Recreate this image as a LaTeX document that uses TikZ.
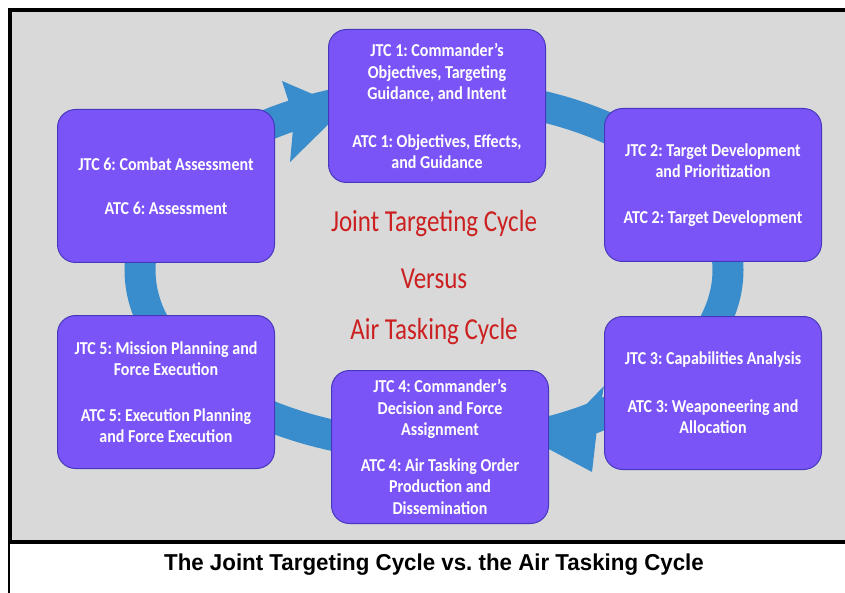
\documentclass[tikz,border=0pt]{standalone}
\usepackage{fontspec}
\setmainfont[FakeStretch=0.88]{Carlito}
\newfontfamily\headfont[FakeStretch=0.82]{Carlito}
\newfontfamily\capfont[FakeStretch=0.97]{Liberation Sans}
\usetikzlibrary{positioning}
\definecolor{FillStep}{RGB}{123,84,248}
\definecolor{EdgeStep}{RGB}{70,56,188}
\definecolor{RingBlue}{RGB}{58,141,204}
\definecolor{PanelGray}{RGB}{217,217,217}
\definecolor{TitleRed}{RGB}{204,32,32}

\begin{document}
\frenchspacing
\begin{tikzpicture}[x=1pt,y=-1pt,
    stepbox/.style={draw=EdgeStep, fill=FillStep, line width=1pt, rounded corners=18pt,
      minimum width=217pt, minimum height=153pt, inner sep=0pt, align=center,
      text=white, font=\bfseries\fontsize{18.2}{21.5}\selectfont},
    ring/.style={draw=RingBlue, line width=31pt},
    tip/.style={fill=RingBlue},
    headline/.style={text=TitleRed, font=\headfont\fontsize{30.5}{33}\selectfont}
  ]
  \useasboundingbox (0,0) rectangle (845,593);
  % grey panel with its frame
  \fill[PanelGray] (10,10) rectangle (845,542);
  \draw[line width=4pt] (845,10) -- (10,10) -- (10,542) -- (845,542);
  \draw[line width=1.5pt] (9,542) -- (9,593);

  % the cycle behind the steps
  \coordinate (hub) at (434,270);
  \draw[ring] (hub) ellipse [x radius=294pt, y radius=176pt];
  \fill[tip] (282,81) -- (345,108) -- (290,162) -- (294,118) -- cycle;
  \fill[tip] (604,386) -- (545,447) -- (592,472) -- (598,420) -- cycle;

  \node[stepbox] (step1) at (437,106) {JTC 1: Commander’s\\Objectives, Targeting\\Guidance, and Intent\\[26pt]ATC 1: Objectives, Effects,\\and Guidance};
  \node[stepbox] (step2) at (713,185) {JTC 2: Target Development\\and Prioritization\\[24pt]ATC 2: Target Development};
  \node[stepbox] (step3) at (713,393) {JTC 3: Capabilities Analysis\\[26pt]ATC 3: Weaponeering and\\Allocation};
  \node[stepbox] (step4) at (440,447) {JTC 4: Commander’s\\Decision and Force\\Assignment\\[14pt]ATC 4: Air Tasking Order\\Production and\\Dissemination};
  \node[stepbox] (step5) at (166,392) {JTC 5: Mission Planning and\\Force Execution\\[24pt]ATC 5: Execution Planning\\and Force Execution};
  \node[stepbox] (step6) at (166,186) {JTC 6: Combat Assessment\\[23pt]ATC 6: Assessment};

  \node[headline] (head1) at (434,224) {Joint Targeting Cycle};
  \node[headline] (head2) at (434,279) {Versus};
  \node[headline] (head3) at (434,332) {Air Tasking Cycle};

  \node[font=\capfont\bfseries\fontsize{23}{26}\selectfont] (caption) at (434,565) {The Joint Targeting Cycle vs. the Air Tasking Cycle};
\end{tikzpicture}
\end{document}
